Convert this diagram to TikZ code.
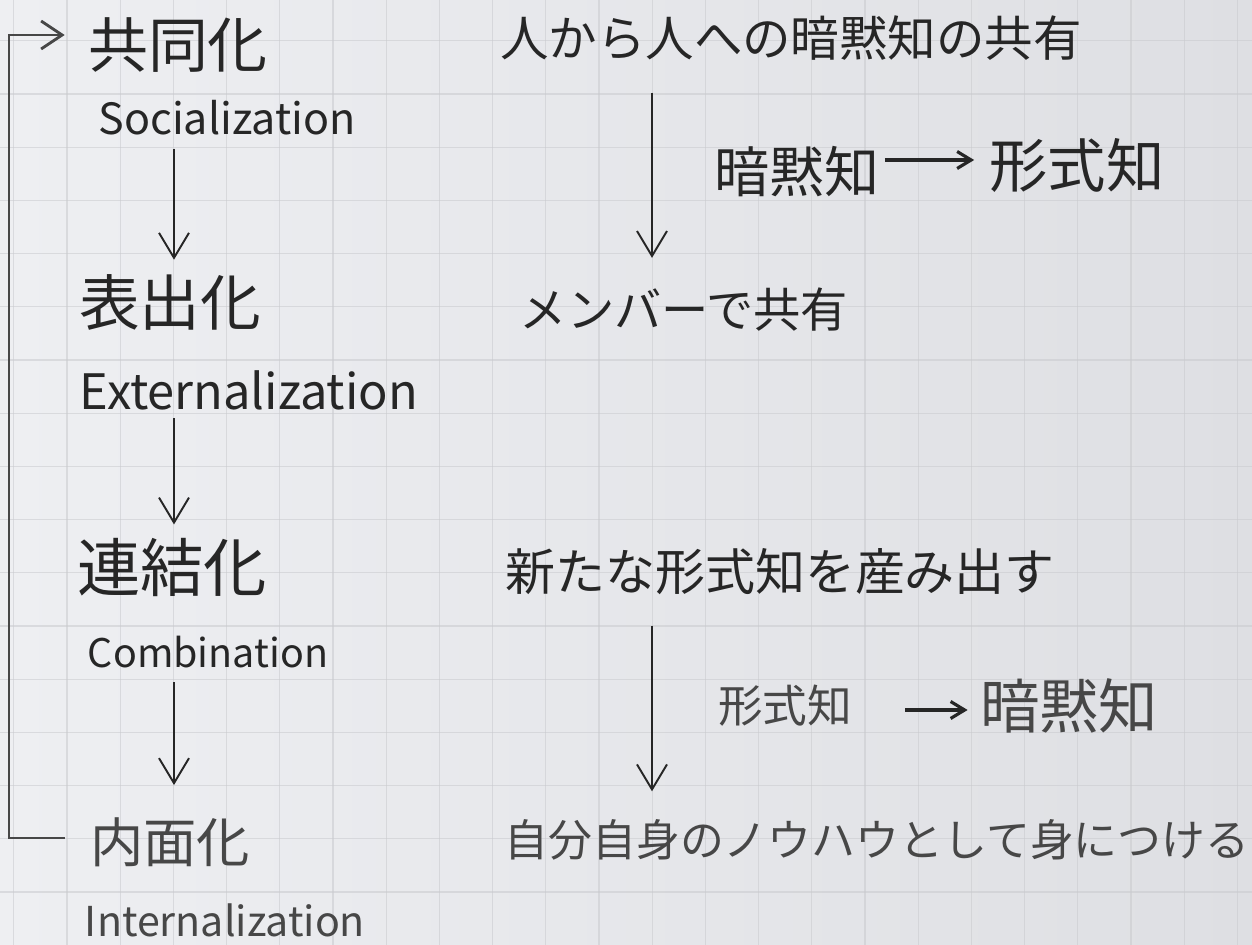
\documentclass[tikz,border=0pt]{standalone}
\usepackage{fontspec}
\setmainfont{Noto Sans CJK JP}
\usetikzlibrary{arrows.meta,calc}
\newlength\pxu \setlength\pxu{0.02cm}
\newcommand\fitw[2]{\resizebox{#1\pxu}{!}{#2}}
\definecolor{paperl}{HTML}{EEEFF2}
\definecolor{paperr}{HTML}{DEDFE3}
\definecolor{gridc}{HTML}{C9CACE}
\definecolor{ink}{HTML}{262626}
\definecolor{inklt}{HTML}{474747}
\begin{document}
\begin{tikzpicture}[x=0.02cm,y=-0.02cm,
  lab/.style={inner sep=0pt,text=ink},
  labl/.style={inner sep=0pt,text=inklt},
  flow/.style={draw=ink,line width=1.1pt,-{Straight Barb[length=0.5cm,width=0.6cm]}},
  fback/.style={draw=ink!85,line width=1.6pt,-{Straight Barb[length=0.42cm,width=0.56cm]}},
  tarrow/.style={draw=ink,line width=1.8pt,-{Straight Barb[length=0.28cm,width=0.34cm]}},
  gridline/.style={draw=gridc,line width=0.6pt,opacity=0.55}]
\shade[left color=paperl,right color=paperr] (0,0) rectangle (1252,945);
\useasboundingbox (0,0) rectangle (1252,945);
\foreach \i in {0,...,23} \draw[gridline] ({13.8+53.2*\i},0) -- ({13.8+53.2*\i},945);
\foreach \j in {0,...,16} \draw[gridline] (0,{40.8+53.2*\j}) -- (1252,{40.8+53.2*\j});

% left column
\node[lab] (kyo) at (178,45) {\fitw{180}{共同化}};
\node[lab] (soc) at (227,118) {\fitw{257}{Socialization}};
\node[lab] (hyo) at (170,302) {\fitw{182}{表出化}};
\node[lab] (ext) at (249,390) {\fitw{338}{Externalization}};
\node[lab] (ren) at (172,567) {\fitw{190}{連結化}};
\node[lab] (com) at (208,652) {\fitw{240}{Combination}};
\node[labl] (nai) at (170,842) {\fitw{160}{内面化}};
\node[labl] (int) at (225,920) {\fitw{280}{Internalization}};

% right column
\node[lab] (hito) at (791,38) {\fitw{582}{人から人への暗黙知の共有}};
\node[lab] (an1) at (797,172) {\fitw{165}{暗黙知}};
\node[lab] (kei1) at (1077,165) {\fitw{175}{形式知}};
\node[lab] (mem) at (684,310) {\fitw{328}{メンバーで共有}};
\node[lab] (shin) at (780,572) {\fitw{550}{新たな形式知を産み出す}};
\node[labl] (kei2) at (785,706) {\fitw{134}{形式知}};
\node[labl] (an2) at (1069,706) {\fitw{178}{暗黙知}};
\node[labl] (jibun) at (877,840) {\fitw{745}{自分自身のノウハウとして身につける}};

\coordinate (lc) at (174,0);
\coordinate (rc) at (652,0);
\coordinate (fb) at (9,0);

% left flow arrows
\draw[flow,shorten <=0.26cm,shorten >=0.28cm] (soc.south -| lc) -- (hyo.north -| lc);
\draw[flow,shorten <=0.16cm,shorten >=0.26cm] (ext.south -| lc) -- (ren.north -| lc);
\draw[flow,shorten <=0.28cm,shorten >=0.64cm] (com.south -| lc) -- (nai.north -| lc);

% right flow arrows
\draw[flow,shorten <=0.64cm,shorten >=0.6cm] (hito.south -| rc) -- (mem.north -| rc);
\draw[flow,shorten <=0.6cm,shorten >=0.56cm] (shin.south -| rc) -- (jibun.north -| rc);

% text arrows
\draw[tarrow,shorten <=0.1cm,shorten >=0.3cm] ($(an1.east)+(0,-12)$) -- ($(kei1.west |- an1.east)+(0,-12)$);
\draw[tarrow,shorten <=1.06cm,shorten >=0.24cm] ($(kei2.east)+(0,4)$) -- ($(an2.west |- kei2.east)+(0,4)$);

% feedback loop
\draw[fback,shorten <=0.5cm,shorten >=0.46cm] ($(nai.west)+(0,-4)$) -- ($(nai.west -| fb)+(0,-4)$) |- ($(kyo.west)+(0,-10)$);
\end{tikzpicture}
\end{document}
